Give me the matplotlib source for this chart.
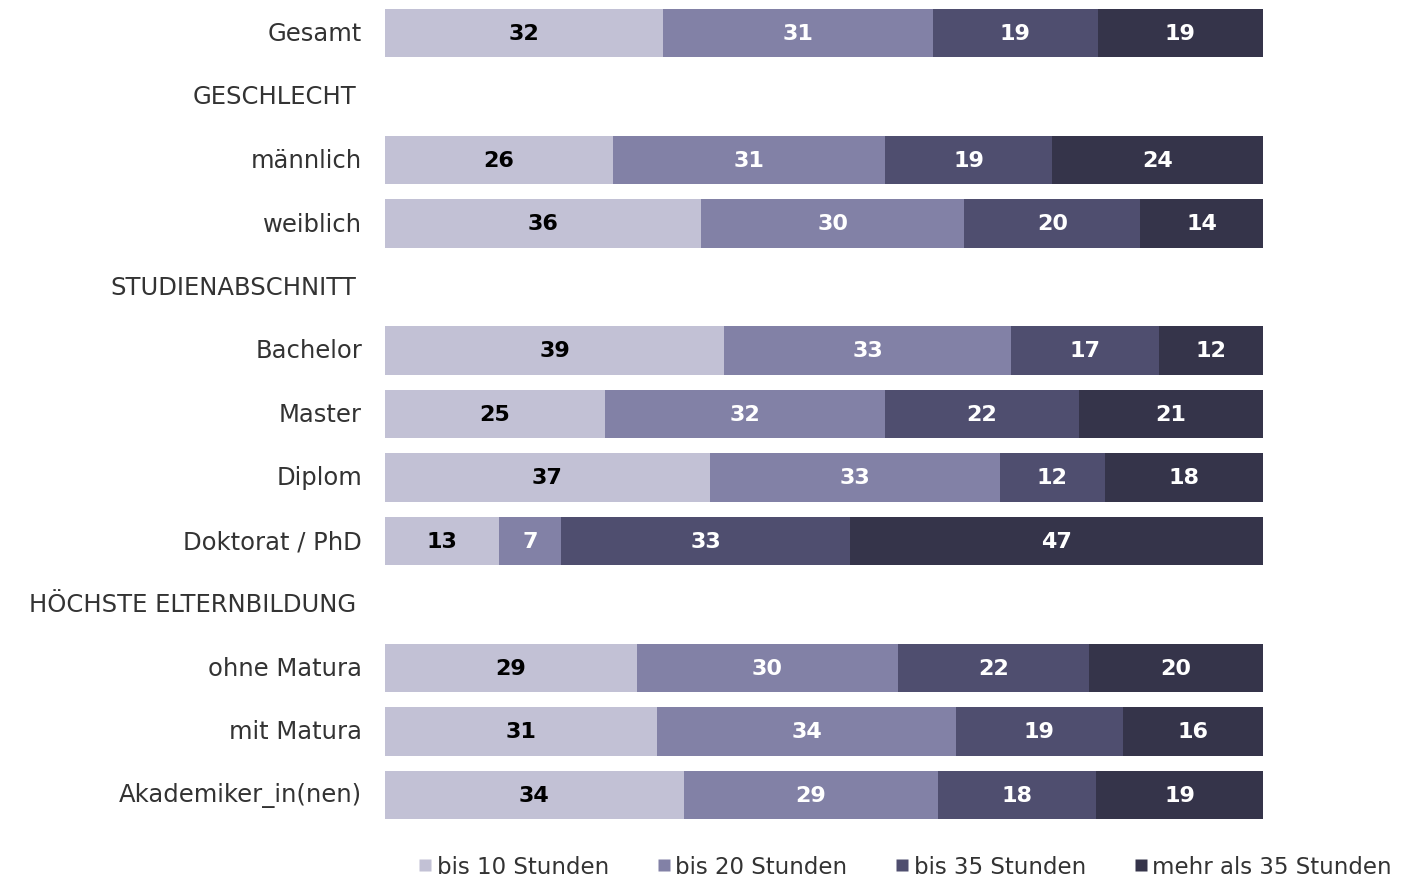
import numpy as np
import matplotlib.pyplot as plt
from matplotlib.lines import Line2D

# --- Data ---
rows = ['Gesamt', 'GESCHLECHT', 'männlich', 'weiblich', 'STUDIENABSCHNITT',
        'Bachelor', 'Master', 'Diplom', 'Doktorat / PhD',
        'HÖCHSTE ELTERNBILDUNG', 'ohne Matura', 'mit Matura', 'Akademiker_in(nen)']
headers = ['GESCHLECHT', 'STUDIENABSCHNITT', 'HÖCHSTE ELTERNBILDUNG']

series = ['bis 10 Stunden', 'bis 20 Stunden', 'bis 35 Stunden', 'mehr als 35 Stunden']
bis10 = [32, None, 26, 36, None, 39, 25, 37, 13, None, 29, 31, 34]
bis20 = [31, None, 31, 30, None, 33, 32, 33, 7, None, 30, 34, 29]
bis35 = [19, None, 19, 20, None, 17, 22, 12, 33, None, 22, 19, 18]
mehr35 = [19, None, 24, 14, None, 12, 21, 18, 47, None, 20, 16, 19]

colors = ['#c2c1d5', '#8281a6', '#4f4e6f', '#35344a']
text_colors = ['black', 'white', 'white', 'white']

FONT = 'DejaVu Sans'
plt.rcParams['font.family'] = FONT

W, H = 1401, 878
fig = plt.figure(figsize=(W / 100, H / 100), dpi=100)
ax = fig.add_axes([385 / W, 1 - 827.75 / H, (1263 - 385) / W, 825.5 / H])

all_series = [bis10, bis20, bis35, mehr35]
for i, name in enumerate(rows):
    if name in headers:
        ax.text(-29 / 8.78, i, name, ha='right', va='center',
                fontsize=17.5, color='#333333')
        continue
    vals = np.array([s[i] for s in all_series], dtype=float)
    shares = vals / vals.sum() * 100  # displayed values are rounded; scale to full bar
    left = 0.0
    for k, (v, w) in enumerate(zip(vals, shares)):
        ax.barh(i, w, left=left, height=0.76, color=colors[k], edgecolor='none')
        ax.text(left + w / 2, i, f'{int(v)}', ha='center', va='center',
                fontsize=16, fontweight='bold', color=text_colors[k])
        left += w
    ax.text(-23 / 8.78, i, name, ha='right', va='center',
            fontsize=17.5, color='#333333')

ax.set_xlim(0, 100)
ax.set_ylim(12.5, -0.5)
ax.axis('off')

handles = [Line2D([0], [0], marker='s', linestyle='none', markersize=9,
                  markerfacecolor=c, markeredgecolor='none') for c in colors]
fig.legend(handles, series, loc='center', bbox_to_anchor=(904 / W, 1 - 868 / H),
           ncol=4, frameon=False, fontsize=16.5, handletextpad=0.1,
           columnspacing=2.0, labelcolor='#333333', handlelength=0.8)

fig.savefig('out.png', dpi=100)
